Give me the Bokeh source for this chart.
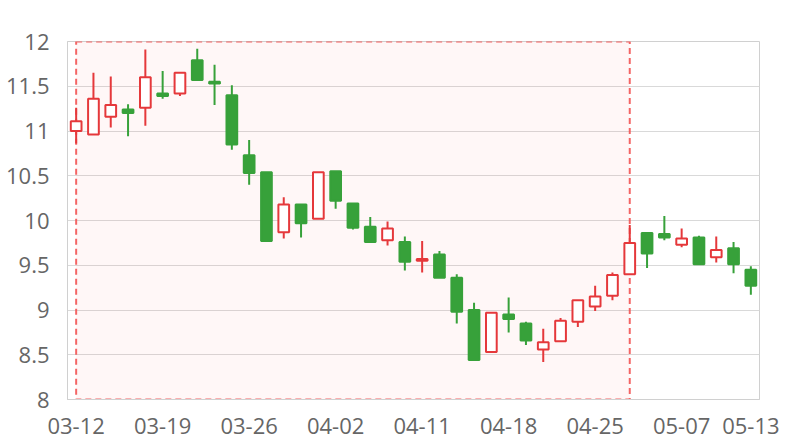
from bokeh.plotting import figure
from bokeh.models import ColumnDataSource, FixedTicker
from bokeh.embed import file_html
from bokeh.resources import INLINE

dates = ["03-12", "03-13", "03-14", "03-15", "03-16", "03-19", "03-20", "03-21", "03-22", "03-23",
         "03-26", "03-27", "03-28", "03-29", "03-30", "04-02", "04-03", "04-04", "04-09", "04-10",
         "04-11", "04-12", "04-13", "04-16", "04-17", "04-18", "04-19", "04-20", "04-23", "04-24",
         "04-25", "04-26", "04-27", "05-03", "05-04", "05-07", "05-08", "05-09", "05-10", "05-13"]
opens = [11.00, 10.96, 11.16, 11.24, 11.26, 11.42, 11.42, 11.79, 11.55, 11.40,
         10.73, 10.54, 9.87, 10.18, 10.02, 10.55, 10.19, 9.93, 9.78, 9.76,
         9.55, 9.62, 9.36, 9.00, 8.53, 8.95, 8.85, 8.56, 8.65, 8.87,
         9.04, 9.16, 9.40, 9.86, 9.85, 9.73, 9.81, 9.59, 9.69, 9.45]
closes = [11.11, 11.36, 11.29, 11.20, 11.60, 11.39, 11.65, 11.57, 11.53, 10.85,
          10.53, 9.77, 10.18, 9.97, 10.54, 10.22, 9.92, 9.76, 9.91, 9.54,
          9.57, 9.36, 8.98, 8.44, 8.97, 8.90, 8.66, 8.64, 8.88, 9.11,
          9.15, 9.39, 9.75, 9.63, 9.81, 9.80, 9.51, 9.67, 9.51, 9.27]
highs = [11.26, 11.65, 11.61, 11.30, 11.91, 11.67, 11.66, 11.92, 11.74, 11.51,
         10.90, 10.54, 10.26, 10.18, 10.54, 10.55, 10.19, 10.04, 9.99, 9.82,
         9.77, 9.66, 9.40, 9.08, 8.97, 9.14, 8.87, 8.79, 8.91, 9.11,
         9.27, 9.42, 9.95, 9.87, 10.05, 9.91, 9.83, 9.82, 9.76, 9.49]
lows = [10.86, 10.96, 11.04, 10.94, 11.06, 11.36, 11.39, 11.56, 11.29, 10.79,
        10.40, 9.77, 9.80, 9.81, 10.02, 10.13, 9.90, 9.75, 9.72, 9.44,
        9.42, 9.36, 8.85, 8.43, 8.53, 8.75, 8.61, 8.42, 8.65, 8.81,
        8.99, 9.11, 9.40, 9.47, 9.78, 9.70, 9.51, 9.53, 9.41, 9.17]

shown_labels = ["03-12", "03-19", "03-26", "04-02", "04-11", "04-18", "04-25", "05-07", "05-13"]
y_ticks = [8, 8.5, 9, 9.5, 10, 10.5, 11, 11.5, 12]
y_min, y_max = 8, 12

zone_start = "03-12"
zone_end = "04-27"
zone_bottom = 8
zone_top = 12

RED = "#e5383b"
GREEN = "#37a13a"

idx = list(range(len(dates)))
up = [c >= o for o, c in zip(opens, closes)]
src = ColumnDataSource(dict(
    x=idx,
    date=dates,
    top=[max(o, c) for o, c in zip(opens, closes)],
    bottom=[min(o, c) for o, c in zip(opens, closes)],
    high=highs,
    low=lows,
    line=[RED if u else GREEN for u in up],
    fill=["#ffffff" if u else GREEN for u in up],
))

p = figure(x_range=(-0.5, len(dates) - 0.5), y_range=(y_min, y_max),
           frame_width=692, frame_height=358,
           min_border_left=67, min_border_right=25, min_border_top=41, min_border_bottom=41,
           output_backend="svg", toolbar_location=None, background_fill_color="#ffffff")

p.quad(left=[dates.index(zone_start)], right=[dates.index(zone_end)],
       bottom=[zone_bottom], top=[zone_top],
       fill_color="#ff3030", fill_alpha=0.04,
       line_color="#f24b4b", line_alpha=0.85, line_width=2, line_dash="6 4")

p.segment(x0="x", x1="x", y0="low", y1="high", source=src, line_color="line", line_width=2)
p.vbar(x="x", width=0.62, top="top", bottom="bottom", source=src,
       fill_color="fill", line_color="line", line_width=2)

p.yaxis.ticker = FixedTicker(ticks=y_ticks)
p.yaxis.major_label_overrides = {8: "8", 9: "9", 10: "10", 11: "11", 12: "12"}
x_ticks = [dates.index(d) for d in shown_labels]
p.xaxis.ticker = FixedTicker(ticks=x_ticks)
p.xaxis.major_label_overrides = {i: dates[i] for i in x_ticks}

for ax in (p.xaxis[0], p.yaxis[0]):
    ax.axis_line_color = "#d0d0d0"
    ax.axis_line_width = 1
    ax.major_tick_line_color = None
    ax.minor_tick_line_color = None
    ax.major_label_text_font = "Open Sans"
    ax.major_label_text_font_size = "22px"
    ax.major_label_text_color = "#666666"

p.yaxis.major_label_standoff = 12
p.xaxis.major_label_standoff = 12

p.xgrid.grid_line_color = None
p.ygrid.grid_line_color = "#d9d9d9"
p.ygrid.grid_line_width = 1
p.outline_line_color = "#d0d0d0"

open("out.html", "w").write(file_html(p, INLINE))
